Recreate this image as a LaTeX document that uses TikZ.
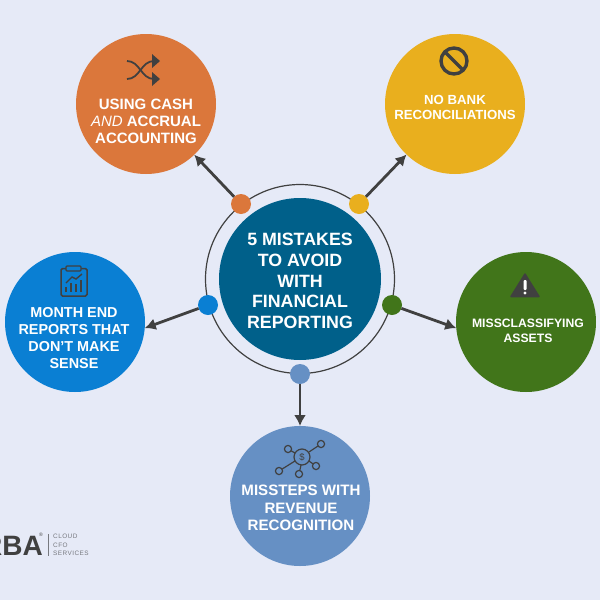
\documentclass[tikz,border=0pt]{standalone}
\usepackage{fontspec}
\setmainfont{Liberation Sans}
\usepackage{tikz}
\usetikzlibrary{arrows.meta, calc}
\definecolor{pagebg}{HTML}{E6EAF7}
\definecolor{cashcol}{HTML}{DB773B}
\definecolor{bankcol}{HTML}{E9AF1E}
\definecolor{monthcol}{HTML}{0A7FD3}
\definecolor{assetcol}{HTML}{41751A}
\definecolor{revcol}{HTML}{6690C4}
\definecolor{hubcol}{HTML}{00608A}
\definecolor{inkcol}{HTML}{404040}
\definecolor{logocol}{HTML}{77797F}

\begin{document}
\begin{tikzpicture}[x=1pt, y=-1pt]
    % Styles
    \tikzstyle{topic} = [circle, minimum size=140pt, inner sep=0pt, outer sep=0pt]
    \tikzstyle{dot} = [circle, minimum size=20pt, inner sep=0pt, outer sep=0pt]
    \tikzstyle{caption} = [text=white, font=\bfseries, align=center, inner sep=0pt]
    \tikzstyle{line} = [draw, -{Latex[length=11pt, width=12pt]}, line width=2.8pt, inkcol]
    \tikzstyle{icon} = [draw=inkcol, line width=1.8pt]
    \tikzstyle{logotext} = [text=logocol, anchor=west, inner sep=0pt, font=\fontsize{6.4}{7}\selectfont\addfontfeatures{LetterSpace=7}]

    \useasboundingbox (0,0) rectangle (600,600);
    \fill[pagebg] (0,0) rectangle (600,600);

    % Nodes
    \node [circle, draw=inkcol, line width=1.2pt, minimum size=189pt, inner sep=0pt] (ring) at (300,279) {};
    \node [circle, fill=hubcol, minimum size=162pt, inner sep=0pt] (hub) at (300,279) {};
    \node [caption, font=\bfseries\fontsize{17.8}{20.6}\selectfont] (hubtext) at (300,281) {5 MISTAKES\\TO AVOID\\WITH\\FINANCIAL\\REPORTING};

    \node [topic, fill=cashcol] (cash) at (146,104) {};
    \node [topic, fill=bankcol] (bank) at (455,104) {};
    \node [topic, fill=monthcol] (month) at (75,322) {};
    \node [topic, fill=assetcol] (asset) at (526,322) {};
    \node [topic, fill=revcol] (rev) at (300,496) {};

    \node [dot, fill=cashcol] (dotcash) at (241,204) {};
    \node [dot, fill=bankcol] (dotbank) at (359,204) {};
    \node [dot, fill=monthcol] (dotmonth) at (208,305) {};
    \node [dot, fill=assetcol] (dotasset) at (392,305) {};
    \node [dot, fill=revcol] (dotrev) at (300,374) {};

    \node [caption, font=\bfseries\fontsize{15}{17}\selectfont] (cashtext) at (146,121) {USING CASH\\{\mdseries\itshape AND} ACCRUAL\\ACCOUNTING};
    \node [caption, font=\bfseries\fontsize{13.2}{15}\selectfont] (banktext) at (455,107) {NO BANK\\RECONCILIATIONS};
    \node [caption, font=\bfseries\fontsize{14.4}{17}\selectfont] (monthtext) at (74,338) {MONTH END\\REPORTS THAT\\DON’T MAKE\\SENSE};
    \node [caption, font=\bfseries\fontsize{12.2}{15}\selectfont] (assettext) at (528,331) {MISSCLASSIFYING\\ASSETS};
    \node [caption, font=\bfseries\fontsize{15.1}{17.5}\selectfont] (revtext) at (301,508) {MISSTEPS WITH\\REVENUE\\RECOGNITION};

    % Connections
    \path [line] (dotcash) -- (cash);
    \path [line] (dotbank) -- (bank);
    \path [line] (dotmonth) -- (month.-5);
    \path [line] (dotasset) -- (asset.185);
    \path [line] (dotrev) -- (rev);

    % Icons
    \draw [icon] (127,61) .. controls (140,61) and (141,79) .. (154,79);
    \draw [icon] (127,79) .. controls (140,79) and (141,61) .. (154,61);
    \fill [inkcol] (160,61) -- (152,54) -- (152,68) -- cycle;
    \fill [inkcol] (160,79) -- (152,72) -- (152,86) -- cycle;

    \draw [icon, line width=3.4pt] (454,61) circle (13);
    \draw [icon, line width=3.4pt] (445,52) -- (463,70);

    \draw [icon, rounded corners=1.5pt, line width=1.5pt] (61,268.5) rectangle (87,296);
    \draw [icon, fill=monthcol, rounded corners=1pt, line width=1.4pt] (66,266) rectangle (81,271);
    \draw [icon, line width=1.4pt] (66,283) -- (72,277) -- (76,279) -- (82,274);
    \foreach \barx/\bartop in {66/287, 71/283, 76/284, 81/280}
        \draw [icon, line width=1.6pt] (\barx,292) -- (\barx,\bartop);

    \fill [inkcol, draw=inkcol, line width=1.5pt, line join=round] (525,274) -- (511,296.5) -- (539,296.5) -- cycle;
    \fill [white, rounded corners=1pt] (523.5,280) rectangle (526.5,290);
    \fill [white] (525,293) circle (1.6);

    \draw [icon, line width=1.2pt] (302,457) circle (8);
    \node [inner sep=0pt, text=inkcol, font=\fontsize{9.5}{10}\selectfont] (dollar) at (302,457) {\$};
    \foreach \satx/\saty/\inx/\iny in {288/449/295/453, 321/444/309/452, 316/466/309/461, 299/474/301/465, 279/471/295/461} {
        \draw [icon, line width=1.2pt] (\satx,\saty) circle (3.6);
        \draw [icon, line width=1.2pt, shorten <=3.6pt] (\satx,\saty) -- (\inx,\iny);
    }

    % Logo
    \node [anchor=east, inner sep=0pt, text=inkcol, font=\bfseries\fontsize{28}{30}\selectfont] (logo) at (43,545.5) {RBA};
    \node [inner sep=0pt, text=inkcol, font=\fontsize{5}{5}\selectfont] (logomark) at (41,535) {®};
    \draw [logocol, line width=0.6pt] (48,534) -- (48,556);
    \node [logotext] (logoa) at (53,536.5) {CLOUD};
    \node [logotext] (logob) at (53,545) {CFO};
    \node [logotext] (logoc) at (53,553) {SERVICES};
\end{tikzpicture}
\end{document}
